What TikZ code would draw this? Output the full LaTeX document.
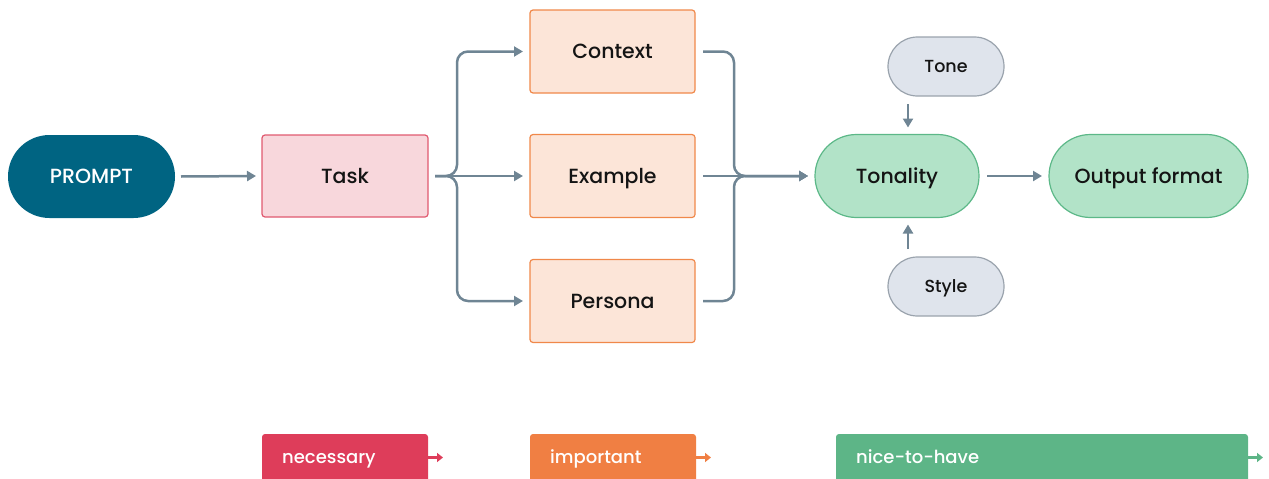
\documentclass[tikz,border=0pt]{standalone}
\usepackage{fontspec}
\setmainfont{Poppins}[UprightFont={* Medium}]
\usetikzlibrary{arrows.meta,calc}
\definecolor{conncol}{HTML}{6F8594}
\definecolor{promptfill}{HTML}{006482}
\definecolor{taskfill}{HTML}{F8D7DC}
\definecolor{taskdraw}{HTML}{E05A70}
\definecolor{impfill}{HTML}{FCE5D8}
\definecolor{impdraw}{HTML}{F0884A}
\definecolor{nicefill}{HTML}{B2E3C8}
\definecolor{nicedraw}{HTML}{5CB888}
\definecolor{greyfill}{HTML}{DFE4EC}
\definecolor{greydraw}{HTML}{9AA3AD}
\definecolor{txt}{HTML}{141414}
\definecolor{necleg}{HTML}{DE3D5A}
\definecolor{impleg}{HTML}{F07F43}
\definecolor{niceleg}{HTML}{5DB587}
\begin{document}
\begin{tikzpicture}[x=1pt,y=-1pt,
  base/.style={inner sep=0pt, outer sep=0pt, font=\fontsize{20.5}{24}\selectfont, text=txt, text height=14.5, text depth=0},
  pill/.style={base, rounded corners=41.5, minimum height=83},
  promptbox/.style={pill, fill=promptfill, minimum width=167, text=white},
  taskbox/.style={base, draw=taskdraw, fill=taskfill, line width=1.2, rounded corners=3, minimum width=166, minimum height=82},
  impbox/.style={base, draw=impdraw, fill=impfill, line width=1.2, rounded corners=3, minimum width=165, minimum height=83},
  nicebox/.style={pill, draw=nicedraw, fill=nicefill, line width=1.2},
  greybox/.style={base, draw=greydraw, fill=greyfill, line width=1.2, rounded corners=29.5, minimum width=116, minimum height=59, font=\fontsize{17.5}{20}\selectfont, text height=12.5},
  conn/.style={draw=conncol, line width=2.5, -{Triangle[length=9,width=10]}},
  brace/.style={conn, rounded corners=11},
  legbox/.style={inner sep=0pt, outer sep=0pt, rounded corners=3, minimum height=52, anchor=north west},
  legtext/.style={anchor=west, inner sep=0pt, text=white, font=\fontsize{18}{20}\selectfont, text height=12.5, text depth=0},
  legarrow/.style={line width=3.5, -{Triangle[length=6,width=9]}}
]
\useasboundingbox (0,0) rectangle (1269,479);

\node[promptbox] (prompt) at (91.5,176.5) {PROMPT};
\node[taskbox] (task) at (345,176) {Task};
\node[impbox] (context) at (612.5,51.5) {Context};
\node[impbox] (example) at (612.5,176) {Example};
\node[impbox] (persona) at (612.5,301) {Persona};
\node[nicebox, minimum width=164] (tonality) at (897,176) {Tonality};
\node[nicebox, minimum width=199] (output) at (1148.5,176) {Output format};
\node[greybox] (tone) at (946,66.5) {Tone};
\node[greybox] (style) at (946,286.5) {Style};

\draw[conn] ([xshift=6]prompt.east) -- ([xshift=-6]task.west);
\draw[conn] ([xshift=7]task.east) -- ([xshift=-7]example.west);
\draw[brace] ([xshift=7]task.east) -- ($(task.east)+(29,0)$) |- ([xshift=-7]context.west);
\draw[brace] ([xshift=7]task.east) -- ($(task.east)+(29,0)$) |- ([xshift=-7]persona.west);
\draw[conn] ([xshift=8]example.east) -- ([xshift=-7]tonality.west);
\draw[brace] ([xshift=8]context.east) -- ($(context.east)+(39,0)$) |- ([xshift=-7]tonality.west);
\draw[brace] ([xshift=8]persona.east) -- ($(persona.east)+(39,0)$) |- ([xshift=-7]tonality.west);
\coordinate (t1) at ($(tone.south)+(-38,8)$);
\coordinate (s1) at ($(style.north)+(-38,-8)$);
\draw[conn] (t1) -- ($(tonality.north -| t1)+(0,-7)$);
\draw[conn] (s1) -- ($(tonality.south -| s1)+(0,7)$);
\draw[conn] ([xshift=8]tonality.east) -- ([xshift=-7]output.west);

\node[legbox, fill=necleg, minimum width=166] (nec) at (262,434) {};
\node[legtext] (nect) at (282,457.5) {necessary};
\draw[legarrow, draw=necleg] (nec.east |- nect) -- ++(15,0);
\node[legbox, fill=impleg, minimum width=166] (imp) at (530,434) {};
\node[legtext] (impt) at (550,457.5) {important};
\draw[legarrow, draw=impleg] (imp.east |- impt) -- ++(15,0);
\node[legbox, fill=niceleg, minimum width=412] (nice) at (836,434) {};
\node[legtext] (nicet) at (856,457.5) {nice-to-have};
\draw[legarrow, draw=niceleg] (nice.east |- nicet) -- ++(15,0);
\end{tikzpicture}
\end{document}
